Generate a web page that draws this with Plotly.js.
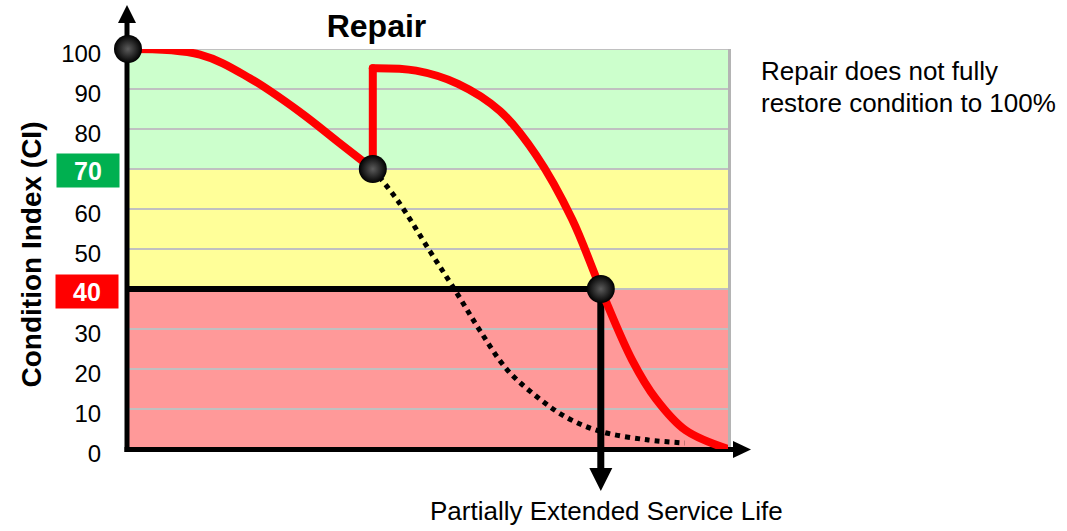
<!DOCTYPE html>
<html>
<head>
<meta charset="utf-8">
<script src="https://cdn.plot.ly/plotly-3.0.1.min.js"></script>
<style>
html,body{margin:0;padding:0;background:#fff;}
#chart{width:1067px;height:531px;}
</style>
</head>
<body>
<div id="chart"></div>
<script>
// ---------------- data ----------------
const tickVals   = [0, 10, 20, 30, 40, 50, 60, 70, 80, 90, 100];
const tickLabels = ['0', '10', '20', '30', '', '50', '60', '', '80', '90', '100'];
const thresholdGood = 70;
const thresholdPoor = 40;
const bandBounds = [[70, 100], [40, 70], [0, 40]];

// deterioration before repair
const seg1X = [0, 12, 20.3, 28.7, 35, 40.8];
const seg1Y = [100, 98.6, 92.7, 84.2, 76.8, 70];
// repair jump
const repairX = [40.8, 40.8];
const repairY = [70, 95.2];
// deterioration after repair
const seg2X = [40.8, 48, 55, 62, 68, 74, 78.8, 84, 88, 93, 100];
const seg2Y = [95.2, 94.6, 91.3, 84.5, 73.5, 57.5, 40, 22.3, 12.5, 4.6, 0];
// original (no repair) path
const dottedX = [40.8, 45, 50.3, 54.8, 58.7, 63.2, 68.2, 73.2, 78.7, 86.5, 92.8];
const dottedY = [70, 62, 49.5, 39, 29.5, 19.8, 13, 7.8, 4.4, 2.3, 1.5];
// key points
const dotX = [0, 40.8, 78.8];
const dotY = [100, 70, 40];

// ---------------- layout geometry ----------------
const L = 128, T = 49, W = 600, H = 400, FW = 1067, FH = 531;
const px2x = p => (p - L) / W;
const py2y = p => (T + H - p) / H;
const FONT = 'Liberation Sans, Arial, sans-serif';

const bandColors = ['#ccffcc', '#ffff99', '#ff9999'];

const shapes = [];
bandBounds.forEach((b, i) => shapes.push({
  type: 'rect', xref: 'paper', yref: 'y', x0: 0, x1: 1, y0: b[0], y1: b[1],
  fillcolor: bandColors[i], line: {width: 0}, layer: 'below'
}));
tickVals.filter(v => v > 0).forEach(v => shapes.push({
  type: 'line', xref: 'paper', yref: 'y', x0: 0, x1: 1, y0: v, y1: v,
  line: {color: '#c0c0c0', width: 2}, layer: 'below'
}));
// right border
shapes.push({type: 'line', xref: 'paper', yref: 'paper', x0: px2x(729.5), x1: px2x(729.5), y0: 0, y1: 1,
  line: {color: '#b4b4b4', width: 3}, layer: 'below'});
// threshold line at 40
shapes.push({type: 'line', xref: 'x', yref: 'y', x0: 0, x1: dotX[2], y0: thresholdPoor, y1: thresholdPoor,
  line: {color: '#000', width: 6}, layer: 'below'});
// vertical line down to service life
shapes.push({type: 'line', xref: 'x', yref: 'paper', x0: dotX[2], x1: dotX[2], y0: thresholdPoor / 100, y1: py2y(470),
  line: {color: '#000', width: 7}, layer: 'below'});
// axes
shapes.push({type: 'line', xref: 'paper', yref: 'paper', x0: px2x(127), x1: px2x(127), y0: py2y(452), y1: py2y(20),
  line: {color: '#000', width: 5}, layer: 'below'});
shapes.push({type: 'line', xref: 'paper', yref: 'paper', x0: px2x(124.5), x1: px2x(736), y0: py2y(449.5), y1: py2y(449.5),
  line: {color: '#000', width: 5}, layer: 'below'});
const tri = (a, b, c) => 'M' + px2x(a[0]) + ',' + py2y(a[1]) + ' L' + px2x(b[0]) + ',' + py2y(b[1]) + ' L' + px2x(c[0]) + ',' + py2y(c[1]) + ' Z';
const vx = L + dotX[2] / 100 * W;
[
  tri([127, 5], [118, 23], [136, 23]),
  tri([751, 449.5], [733, 441], [733, 458]),
  tri([vx, 491], [vx - 11.5, 468], [vx + 11.5, 468])
].forEach(p => shapes.push({type: 'path', xref: 'paper', yref: 'paper', path: p,
  fillcolor: '#000', line: {width: 0}, layer: 'below'}));

const annotations = [
  {xref: 'paper', yref: 'y', x: px2x(88), y: thresholdGood, yshift: -1.5, text: '<b>' + thresholdGood + '</b>',
   font: {family: FONT, size: 25, color: '#fff'}, bgcolor: '#00b050', width: 62, height: 33, borderpad: 0,
   showarrow: false, xanchor: 'center', yanchor: 'middle'},
  {xref: 'paper', yref: 'y', x: px2x(87), y: thresholdPoor, yshift: -2.5, text: '<b>' + thresholdPoor + '</b>',
   font: {family: FONT, size: 25, color: '#fff'}, bgcolor: '#ff0000', width: 62, height: 33, borderpad: 0,
   showarrow: false, xanchor: 'center', yanchor: 'middle'},
  {xref: 'paper', yref: 'paper', x: px2x(30.5), y: py2y(255), text: '<b>Condition Index (CI)</b>', textangle: -90,
   font: {family: FONT, size: 28, color: '#000'}, showarrow: false, xanchor: 'center', yanchor: 'middle'},
  {xref: 'paper', yref: 'paper', x: px2x(606), y: py2y(511), text: 'Partially Extended Service Life',
   font: {family: FONT, size: 26, color: '#000'}, showarrow: false, xanchor: 'center', yanchor: 'middle'},
  {xref: 'paper', yref: 'paper', x: px2x(759), y: py2y(71), text: 'Repair does not fully',
   font: {family: FONT, size: 26, color: '#000'}, showarrow: false, xanchor: 'left', yanchor: 'middle'},
  {xref: 'paper', yref: 'paper', x: px2x(759), y: py2y(103), text: 'restore condition to 100%',
   font: {family: FONT, size: 26, color: '#000'}, showarrow: false, xanchor: 'left', yanchor: 'middle'}
];

const traces = [
  {x: seg1X, y: seg1Y, mode: 'lines', line: {color: '#ff0000', width: 8, shape: 'spline'}, hoverinfo: 'skip'},
  {x: repairX, y: repairY, mode: 'lines', line: {color: '#ff0000', width: 8}, hoverinfo: 'skip'},
  {x: seg2X, y: seg2Y, mode: 'lines', line: {color: '#ff0000', width: 8, shape: 'spline'}, hoverinfo: 'skip'},
  {x: dottedX, y: dottedY, mode: 'lines', line: {color: '#000', width: 5, dash: 'dot', shape: 'spline'}, hoverinfo: 'skip'},
  {x: dotX, y: dotY, mode: 'markers', cliponaxis: false, hoverinfo: 'skip',
   marker: {size: 28, color: '#000', line: {width: 0}, gradient: {type: 'radial', color: '#5c5c5c'}}}
];

const layout = {
  width: FW, height: FH,
  margin: {l: L, r: FW - L - W, t: T, b: FH - T - H, pad: 0},
  paper_bgcolor: '#fff', plot_bgcolor: '#fff',
  font: {family: FONT, color: '#000'},
  showlegend: false,
  title: {text: '<b>Repair</b>', font: {family: FONT, size: 32, color: '#000'},
          xref: 'paper', x: px2x(376.5), xanchor: 'center', yref: 'container', y: 1 - 26 / FH, yanchor: 'middle'},
  xaxis: {range: [0, 100], visible: false, fixedrange: true},
  yaxis: {range: [0, 100], tickvals: tickVals, ticktext: tickLabels, showgrid: false, zeroline: false,
          showline: false, ticks: 'outside', ticklen: 21, tickcolor: 'rgba(0,0,0,0)', ticklabelshift: 5,
          tickfont: {family: FONT, size: 24, color: '#000'}, fixedrange: true},
  shapes: shapes,
  annotations: annotations
};

Plotly.newPlot('chart', traces, layout, {displayModeBar: false, staticPlot: true}).then(() => {
  const tr = document.querySelectorAll('.scatterlayer .trace');
  [0, 1, 2].forEach(i => {
    if (tr[i]) tr[i].querySelectorAll('path.js-line').forEach(p => {
      p.style.strokeLinecap = 'round';
      p.style.strokeLinejoin = 'round';
    });
  });
});
</script>
</body>
</html>
